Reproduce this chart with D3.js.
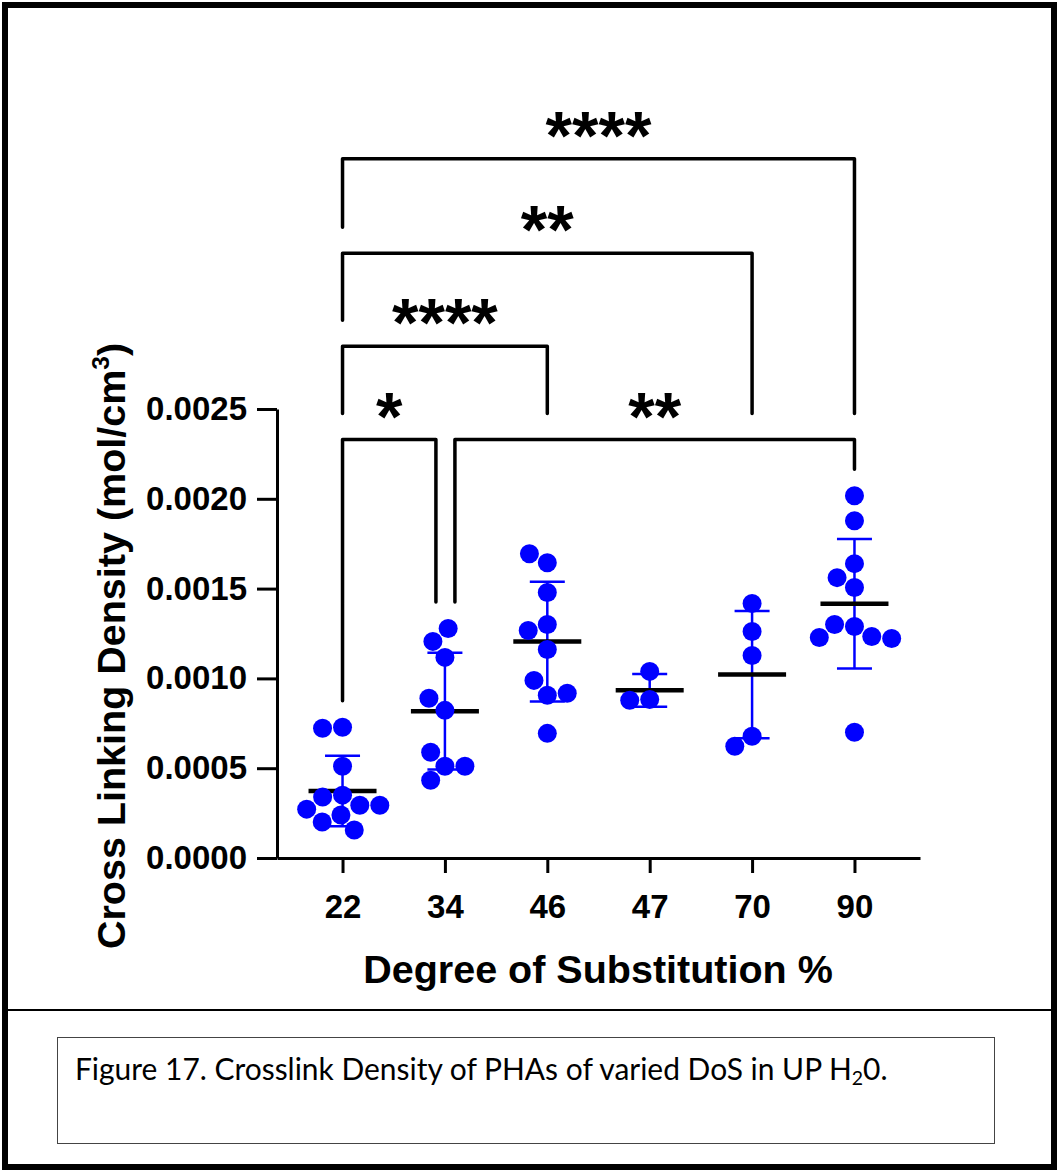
<!DOCTYPE html>
<html>
<head>
<meta charset="utf-8">
<script src="https://cdn.jsdelivr.net/npm/d3@7"></script>
<style>
  body { margin: 0; background: #fff; }
  .axis text { font-family: "Liberation Sans", Arial, sans-serif; font-weight: bold; font-size: 33px; fill: #000; }
  .axis path, .axis line { stroke: #000; stroke-width: 3px; }
</style>
</head>
<body>
<div class="canvas"></div>
<script>
// data (mol/cm3)
const categories = ['22', '34', '46', '47', '70', '90'];
const dos22 = [0.000728, 0.000722, 0.000511, 0.000350, 0.000339, 0.000294, 0.000294, 0.000272, 0.000239, 0.000200, 0.000156];
const dos34 = [0.001117, 0.001206, 0.001278, 0.000822, 0.000889, 0.000511, 0.000589, 0.000511, 0.000433];
const dos46 = [0.001644, 0.001694, 0.001478, 0.001300, 0.001267, 0.001161, 0.000906, 0.000989, 0.000917, 0.000694];
const dos47 = [0.001039, 0.000883, 0.000878];
const dos70 = [0.001417, 0.001261, 0.001128, 0.000678, 0.000622];
const dos90 = [0.002017, 0.001878, 0.001639, 0.001506, 0.001561, 0.001289, 0.001300, 0.001233, 0.001228, 0.001222, 0.000700];
const yTicks = [0, 0.0005, 0.0010, 0.0015, 0.0020, 0.0025];

// significance brackets: [from, to, level, label]
const comparisons = [
  ['22', '34', 0.00233, '*'],
  ['34', '90', 0.00233, '**'],
  ['22', '46', 0.00285, '****'],
  ['22', '70', 0.003367, '**'],
  ['22', '90', 0.003894, '****']
];

const groups = [dos22, dos34, dos46, dos47, dos70, dos90].map((vals, i) => ({
  name: categories[i],
  vals,
  mean: d3.mean(vals),
  sd: d3.deviation(vals)
}));

const width = 1061, height = 1172;
const svg = d3.select('.canvas')
  .append('svg')
  .attr('width', width)
  .attr('height', height);

const font = '"Liberation Sans", Arial, sans-serif';

// page frame + caption
svg.append('rect')
  .attr('x', 5).attr('y', 5)
  .attr('width', 1049).attr('height', 1162)
  .attr('fill', 'none').attr('stroke', '#000').attr('stroke-width', 6);
svg.append('line')
  .attr('x1', 8).attr('x2', 1052).attr('y1', 1010).attr('y2', 1010)
  .attr('stroke', '#000').attr('stroke-width', 2);
svg.append('rect')
  .attr('x', 57.5).attr('y', 1037.5)
  .attr('width', 937).attr('height', 106)
  .attr('fill', 'none').attr('stroke', '#444').attr('stroke-width', 1);

const caption = svg.append('text')
  .attr('x', 75).attr('y', 1080)
  .attr('font-family', 'Lato, "Open Sans", sans-serif')
  .attr('font-size', 28)
  .attr('fill', '#000');
caption.append('tspan').text('Figure 17. Crosslink Density of PHAs of varied DoS in UP H');
caption.append('tspan').attr('font-size', '65%').attr('dy', 5).text('2');
caption.append('tspan').attr('dy', -5).text('0.');
// fit caption to its width in the figure
const capLen = caption.node().getComputedTextLength();
caption.attr('font-size', 28 * 813 / capLen);

// scales
const y = d3.scaleLinear().domain([0, 0.0025]).range([858, 409]);
const x = d3.scalePoint().domain(categories).range([277, 920]).padding(0.64);

// axes
const yAxis = d3.axisLeft(y)
  .tickValues(yTicks)
  .tickFormat(d3.format('.4f'))
  .tickSize(20)
  .tickSizeOuter(0)
  .tickPadding(10);
svg.append('g')
  .attr('class', 'axis')
  .attr('transform', 'translate(277,0)')
  .call(yAxis);

const xAxis = d3.axisBottom(x)
  .tickSize(15)
  .tickSizeOuter(0)
  .tickPadding(22);
svg.append('g')
  .attr('class', 'axis')
  .attr('transform', 'translate(0,858)')
  .call(xAxis);

svg.append('text')
  .attr('x', 598).attr('y', 983)
  .attr('text-anchor', 'middle')
  .attr('font-family', font).attr('font-weight', 'bold').attr('font-size', 39.5)
  .text('Degree of Substitution %');

const yTitle = svg.append('text')
  .attr('transform', 'translate(125,646) rotate(-90)')
  .attr('text-anchor', 'middle')
  .attr('font-family', font).attr('font-weight', 'bold').attr('font-size', 39.5);
yTitle.append('tspan').text('Cross Linking Density (mol/cm');
yTitle.append('tspan').attr('font-size', '62%').attr('dy', -16).text('3');
yTitle.append('tspan').attr('dy', 16).text(')');

// brackets
const r = 9.5;
const dataTop = name => {
  const g = groups.find(d => d.name === name);
  return y(Math.max(d3.max(g.vals), g.mean + g.sd)) - r - 17;
};
const legEnd = (name, level) => {
  const xe = x(name);
  const below = comparisons.filter(c => c[2] < level && x(c[0]) <= xe && x(c[1]) >= xe);
  if (below.length) return y(d3.max(below, c => c[2])) - 26;
  return dataTop(name);
};
comparisons.forEach(c => {
  const [a, b, level, label] = c;
  // shift ends apart where two brackets meet at the same column and level
  const shareA = comparisons.some(o => o !== c && o[2] === level && o[1] === a);
  const shareB = comparisons.some(o => o !== c && o[2] === level && o[0] === b);
  const x1 = x(a) + (shareA ? 10 : 0);
  const x2 = x(b) - (shareB ? 9 : 0);
  const yl = y(level);
  svg.append('path')
    .attr('d', `M${x1},${legEnd(a, level)}V${yl}H${x2}V${legEnd(b, level)}`)
    .attr('fill', 'none')
    .attr('stroke', '#000')
    .attr('stroke-width', 3.5)
    .attr('stroke-linejoin', 'round')
    .attr('stroke-linecap', 'round');
  svg.append('text')
    .attr('x', (x1 + x2) / 2)
    .attr('y', yl)
    .attr('text-anchor', 'middle')
    .attr('font-family', font).attr('font-weight', 'bold').attr('font-size', 68)
    .text(label);
});

// error bars (mean +/- SD)
const bars = svg.append('g');
groups.forEach(g => {
  const cx = x(g.name);
  bars.append('line')
    .attr('x1', cx).attr('x2', cx)
    .attr('y1', y(g.mean + g.sd)).attr('y2', y(g.mean - g.sd))
    .attr('stroke', '#0000ff').attr('stroke-width', 2.5);
  [g.mean + g.sd, g.mean - g.sd].forEach(v => {
    bars.append('line')
      .attr('x1', cx - 17.5).attr('x2', cx + 17.5)
      .attr('y1', y(v)).attr('y2', y(v))
      .attr('stroke', '#0000ff').attr('stroke-width', 2.5);
  });
  bars.append('line')
    .attr('x1', cx - 34).attr('x2', cx + 34)
    .attr('y1', y(g.mean)).attr('y2', y(g.mean))
    .attr('stroke', '#000').attr('stroke-width', 4.5);
});

// simple beeswarm so dots sit side by side
const D = 20;
const swarm = vals => {
  const placed = [];
  return vals.map(v => {
    const py = y(v);
    const near = placed.filter(p => Math.abs(p.y - py) < D);
    const cands = [0];
    near.forEach(p => {
      const dx = Math.sqrt(D * D - (p.y - py) ** 2);
      cands.push(p.x - dx, p.x + dx);
    });
    cands.sort((a, b) => Math.abs(a) - Math.abs(b) || a - b);
    const px = cands.find(c => near.every(p => (p.x - c) ** 2 + (p.y - py) ** 2 >= D * D - 0.01));
    placed.push({x: px, y: py});
    return px;
  });
};

groups.forEach(g => {
  const offs = swarm(g.vals);
  svg.append('g')
    .selectAll('circle')
    .data(g.vals)
    .enter()
    .append('circle')
      .attr('cx', (d, i) => x(g.name) + offs[i])
      .attr('cy', d => y(d))
      .attr('r', r)
      .attr('fill', '#0000ff');
});
</script>
</body>
</html>
